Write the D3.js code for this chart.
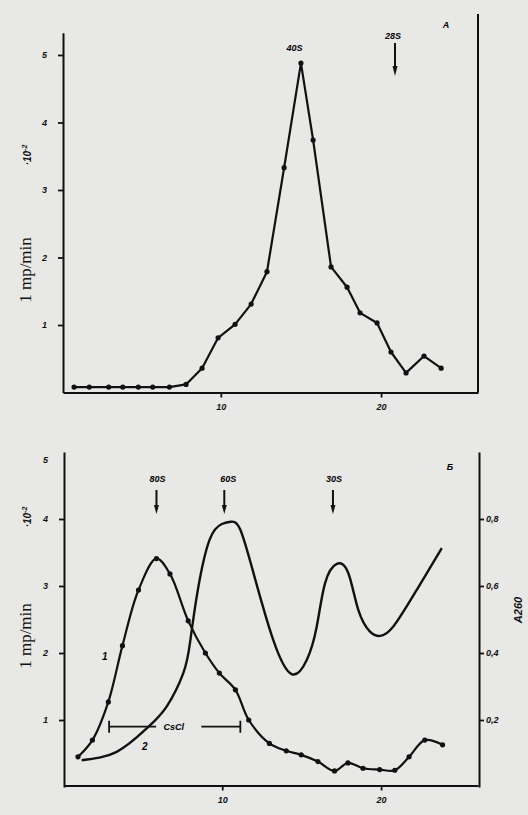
<!DOCTYPE html>
<html>
<head>
<meta charset="utf-8">
<script src="https://cdn.jsdelivr.net/npm/d3@7"></script>
<style>
  body { margin: 0; background: #e8e8e6; }
  svg { display: block; }
  .tick text { font-family: "Liberation Sans", sans-serif; font-weight: bold; font-style: italic; font-size: 9px; }
  .note { font-family: "Liberation Sans", sans-serif; font-weight: bold; font-style: italic; font-size: 9px; }
</style>
</head>
<body>
<svg id="chart"></svg>
<script>
// panel A: fraction number vs activity (1 mp/min x10^-2)
const fracA = [0.84, 1.79, 3.0, 3.88, 4.85, 5.75, 6.79, 7.83, 8.83, 9.83, 10.89, 11.89,
               12.88, 13.95, 15.0, 15.76, 16.88, 17.88, 18.69, 19.75, 20.62, 21.56, 22.68, 23.75];
const actA = [0.08, 0.08, 0.08, 0.08, 0.08, 0.08, 0.08, 0.12, 0.36, 0.81, 1.01, 1.31,
              1.79, 3.33, 4.88, 3.74, 1.86, 1.56, 1.18, 1.03, 0.6, 0.29, 0.54, 0.36];

// panel B, curve 1: activity with points
const fracB1 = [0.92, 1.83, 2.83, 3.72, 4.73, 5.86, 6.71, 7.86, 8.94, 9.82, 10.83, 11.67,
                12.97, 14.03, 14.97, 16.02, 17.07, 17.91, 18.86, 19.91, 20.86, 21.76, 22.75, 23.87];
const actB1 = [0.45, 0.7, 1.27, 2.11, 2.94, 3.41, 3.18, 2.48, 2.0, 1.7, 1.45, 1.0,
               0.65, 0.54, 0.48, 0.38, 0.24, 0.36, 0.28, 0.26, 0.25, 0.45, 0.7, 0.63];

// panel B, curve 2: A260 (right axis)
const fracB2 = [1.15, 3.36, 5.25, 6.5, 7.55, 7.97, 8.47, 9.22, 9.98, 10.55, 11.12, 11.96,
                13.21, 14.37, 15.32, 15.95, 16.47, 17.21, 17.94, 18.57, 19.3, 19.93, 20.77, 22.24, 23.82];
const a260 = [0.08, 0.105, 0.175, 0.24, 0.34, 0.43, 0.59, 0.74, 0.785, 0.792, 0.77, 0.64,
              0.439, 0.337, 0.379, 0.479, 0.608, 0.666, 0.638, 0.528, 0.464, 0.451, 0.479, 0.588, 0.713];

// sedimentation markers
const markA = ["40S", "28S"];
const markAx = [14.6, 20.87];
const markAarrow = [false, true];
const markB = ["80S", "60S", "30S"];
const markBx = [5.86, 10.13, 16.97];

// CsCl gradient bracket (fractions, level on left axis)
const csclFrom = 2.88, csclTo = 11.14, csclLevel = 0.9;

const xTicks = [10, 20];
const yTicks = [1, 2, 3, 4, 5];
const rTicks = [0.2, 0.4, 0.6, 0.8];

const width = 528, height = 815;

const svg = d3.select("#chart")
    .attr("width", width)
    .attr("height", height);

// scales
const xA = d3.scaleLinear().domain([0.15, 26.05]).range([63, 478]);
const yA = d3.scaleLinear().domain([0, 5.33]).range([392.5, 32.7]);

const xB = d3.scaleLinear().domain([0.04, 26.1]).range([64, 478]);
const yB = d3.scaleLinear().domain([0, 5]).range([787, 452]);
const yR = d3.scaleLinear().domain([0, 1]).range([787, 452]);

function styleAxis(g) {
    g.select(".domain").attr("stroke", "#111").attr("stroke-width", 2);
    g.selectAll(".tick line").attr("stroke", "#111").attr("stroke-width", 1.8);
    g.selectAll(".tick text").attr("fill", "#111");
}

// ---------- panel A ----------
const gA = svg.append("g");

gA.append("g")
    .attr("transform", `translate(0,${yA(0)})`)
    .call(d3.axisBottom(xA).tickValues(xTicks).tickSize(5).tickSizeOuter(0).tickPadding(6))
    .call(styleAxis);

gA.append("g")
    .attr("transform", `translate(${xA.range()[0]},0)`)
    .call(d3.axisLeft(yA).tickValues(yTicks).tickSize(5).tickSizeOuter(0).tickPadding(11)
        .tickFormat(d3.format("d")))
    .call(styleAxis);

// right frame line
gA.append("line")
    .attr("x1", xA.range()[1]).attr("x2", xA.range()[1])
    .attr("y1", 14).attr("y2", yA(0))
    .attr("stroke", "#111").attr("stroke-width", 2);

const lineA = d3.line().x((d, i) => xA(fracA[i])).y(d => yA(d));
gA.append("path")
    .datum(actA)
    .attr("d", lineA)
    .attr("fill", "none")
    .attr("stroke", "#111")
    .attr("stroke-width", 2.2)
    .attr("stroke-linejoin", "round");

gA.append("g").selectAll("circle")
    .data(actA)
    .join("circle")
    .attr("cx", (d, i) => xA(fracA[i]))
    .attr("cy", d => yA(d))
    .attr("r", 2.6)
    .attr("fill", "#111");

markA.forEach((m, i) => {
    const x = xA(markAx[i]);
    if (markAarrow[i]) {
        gA.append("text").attr("class", "note").attr("x", x - 2).attr("y", 39)
            .attr("text-anchor", "middle").text(m);
        gA.append("line").attr("x1", x).attr("x2", x).attr("y1", 43).attr("y2", 70)
            .attr("stroke", "#111").attr("stroke-width", 2);
        gA.append("path").attr("d", `M${x - 2.5},66L${x + 2.5},66L${x},76Z`).attr("fill", "#111");
    } else {
        gA.append("text").attr("class", "note").attr("x", x).attr("y", 51)
            .attr("text-anchor", "middle").text(m);
    }
});

gA.append("text").attr("class", "note").attr("x", 446).attr("y", 28)
    .attr("text-anchor", "middle").text("А");

function yLabel(g, cy, cyExp) {
    g.append("text")
        .attr("transform", `translate(31,${cy}) rotate(-90)`)
        .attr("text-anchor", "middle")
        .style("font-family", "'Liberation Serif', serif")
        .style("font-size", "17px")
        .attr("fill", "#111")
        .text("1 mp/min");
    const t = g.append("text")
        .attr("class", "note")
        .attr("transform", `translate(31,${cyExp}) rotate(-90)`)
        .attr("text-anchor", "middle")
        .style("font-size", "10px")
        .attr("fill", "#111");
    t.append("tspan").text("·10");
    t.append("tspan").attr("dy", -4).style("font-size", "7px").text("-2");
}
yLabel(gA, 270, 155);

// ---------- panel B ----------
const gB = svg.append("g");

gB.append("g")
    .attr("transform", `translate(0,${yB(0) - 1.5})`)
    .call(d3.axisBottom(xB).tickValues(xTicks).tickSize(5).tickSizeOuter(0).tickPadding(6))
    .call(styleAxis);

const leftB = gB.append("g")
    .attr("transform", `translate(${xB.range()[0]},0)`)
    .call(d3.axisLeft(yB).tickValues(yTicks).tickSize(5).tickSizeOuter(0).tickPadding(11)
        .tickFormat(d3.format("d")))
    .call(styleAxis);
// top label "5" sits below the axis end without a tick
leftB.selectAll(".tick").filter(d => d === 5).select("line").remove();
leftB.selectAll(".tick").filter(d => d === 5).select("text").attr("dy", "1.2em");

gB.append("g")
    .attr("transform", `translate(479,0)`)
    .call(d3.axisRight(yR).tickValues(rTicks).tickSize(5).tickSizeOuter(0).tickPadding(2)
        .tickFormat(d => d3.format(".1f")(d).replace(".", ",")))
    .call(styleAxis);

gB.append("text")
    .attr("class", "note")
    .attr("transform", `translate(518,610) rotate(-90)`)
    .attr("text-anchor", "middle")
    .attr("dominant-baseline", "central")
    .style("font-size", "11px")
    .attr("fill", "#111")
    .text("A260");

const line1 = d3.line().curve(d3.curveCatmullRom.alpha(0.5))
    .x((d, i) => xB(fracB1[i])).y(d => yB(d));
gB.append("path")
    .datum(actB1)
    .attr("d", line1)
    .attr("fill", "none")
    .attr("stroke", "#111")
    .attr("stroke-width", 2.2);

gB.append("g").selectAll("circle")
    .data(actB1)
    .join("circle")
    .attr("cx", (d, i) => xB(fracB1[i]))
    .attr("cy", d => yB(d))
    .attr("r", 2.6)
    .attr("fill", "#111");

const line2 = d3.line().curve(d3.curveNatural)
    .x((d, i) => xB(fracB2[i])).y(d => yR(d));
gB.append("path")
    .datum(a260)
    .attr("d", line2)
    .attr("fill", "none")
    .attr("stroke", "#111")
    .attr("stroke-width", 2.4);

markB.forEach((m, i) => {
    const x = xB(markBx[i]);
    gB.append("text").attr("class", "note").attr("x", x + (i === 1 ? 4 : 1)).attr("y", 482)
        .attr("text-anchor", "middle").text(m);
    gB.append("line").attr("x1", x).attr("x2", x).attr("y1", 490).attr("y2", 508)
        .attr("stroke", "#111").attr("stroke-width", 2);
    gB.append("path").attr("d", `M${x - 2.5},505L${x + 2.5},505L${x},514Z`).attr("fill", "#111");
});

gB.append("text").attr("class", "note").attr("x", 450).attr("y", 470)
    .attr("text-anchor", "middle").text("Б");

gB.append("text").attr("class", "note").attr("x", 102).attr("y", 660).style("font-size", "10px").text("1");
gB.append("text").attr("class", "note").attr("x", 142).attr("y", 750).style("font-size", "10px").text("2");

// CsCl bracket
const cy = yB(csclLevel);
const bx1 = xB(csclFrom), bx2 = xB(csclTo);
gB.append("path")
    .attr("d", `M${bx1},${cy - 6}V${cy + 6}M${bx1},${cy}H${bx1 + 47}M${bx2 - 39},${cy}H${bx2}M${bx2},${cy - 6}V${cy + 6}`)
    .attr("fill", "none")
    .attr("stroke", "#111")
    .attr("stroke-width", 1.8);
gB.append("text").attr("class", "note").attr("x", (bx1 + bx2) / 2 - 1).attr("y", cy + 3.5)
    .attr("text-anchor", "middle").text("CsCl");

yLabel(gB, 636, 517);
</script>
</body>
</html>
